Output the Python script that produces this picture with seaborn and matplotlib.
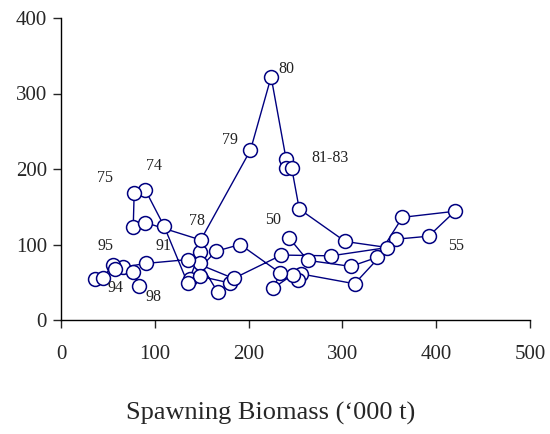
import matplotlib
matplotlib.use("Agg")
import matplotlib.pyplot as plt
import seaborn as sns
import pandas as pd

# Stock-recruitment trajectory, 1950-1998
years = list(range(1950, 1999))
biomass = [243, 263, 309, 337, 364, 420, 392, 357, 313, 256,
           253, 247, 226, 234, 191, 165, 137, 148, 148, 167,
           180, 148, 135, 110, 90, 78, 77, 90, 149, 202,
           224, 240, 240, 246, 254, 303, 348, 288, 235, 184,
           135, 91, 66, 36, 45, 55, 58, 77, 83]
recruits = [109, 79, 71, 83, 136, 144, 111, 107, 48, 61,
            53, 60, 42, 62, 100, 91, 54, 90, 76, 37,
            49, 58, 49, 124, 172, 168, 123, 129, 106, 225,
            322, 213, 201, 201, 147, 104, 96, 85, 86, 55,
            80, 75, 70, 54, 56, 73, 68, 64, 45]

label_text = ["80", "79", "81-83", "74", "75", "78", "50", "95", "91", "55", "94", "98"]
label_x = [240, 180, 287, 99, 47, 145, 226, 47, 109, 421, 58, 99]
label_y = [332, 238, 215, 204, 188, 131, 132, 98, 98, 98, 42, 31]

x_ticks = [0, 100, 200, 300, 400, 500]
y_ticks = [0, 100, 200, 300, 400]

df = pd.DataFrame({"year": years, "biomass": biomass, "recruits": recruits})

sns.set_style("ticks")
plt.rcParams["font.family"] = ["Liberation Serif", "DejaVu Serif"]

fig = plt.figure(figsize=(5.5, 4.34), dpi=100)
ax = fig.add_axes([61 / 550, 1 - 320 / 434, (530 - 61) / 550, (320 - 18) / 434])

navy = "#000080"
sns.lineplot(data=df, x="biomass", y="recruits", sort=False, estimator=None,
             ax=ax, color=navy, linewidth=1.0, marker="o", markersize=10,
             markerfacecolor="white", markeredgecolor=navy, markeredgewidth=1.1)

for t, lx, ly in zip(label_text, label_x, label_y):
    ax.text(lx, ly, t, ha="center", va="center", fontsize=11.5, color="#222222")

ax.set_xlim(0, 500)
ax.set_ylim(0, 400)
ax.set_xticks(x_ticks)
ax.set_yticks(y_ticks)
ax.tick_params(axis="x", direction="out", length=6, width=1, pad=12, labelsize=15)
ax.tick_params(axis="y", direction="out", length=6, width=1, pad=4, labelsize=15)
ax.set_xlabel("")
ax.set_ylabel("")
for s in ["top", "right"]:
    ax.spines[s].set_visible(False)
for s in ["left", "bottom"]:
    ax.spines[s].set_linewidth(1.0)
    ax.spines[s].set_color("black")

fig.text(271 / 550, 1 - 413 / 434, "Spawning Biomass (\u2018000 t)",
         ha="center", va="center", fontsize=19)

fig.savefig("out.png", dpi=100)
